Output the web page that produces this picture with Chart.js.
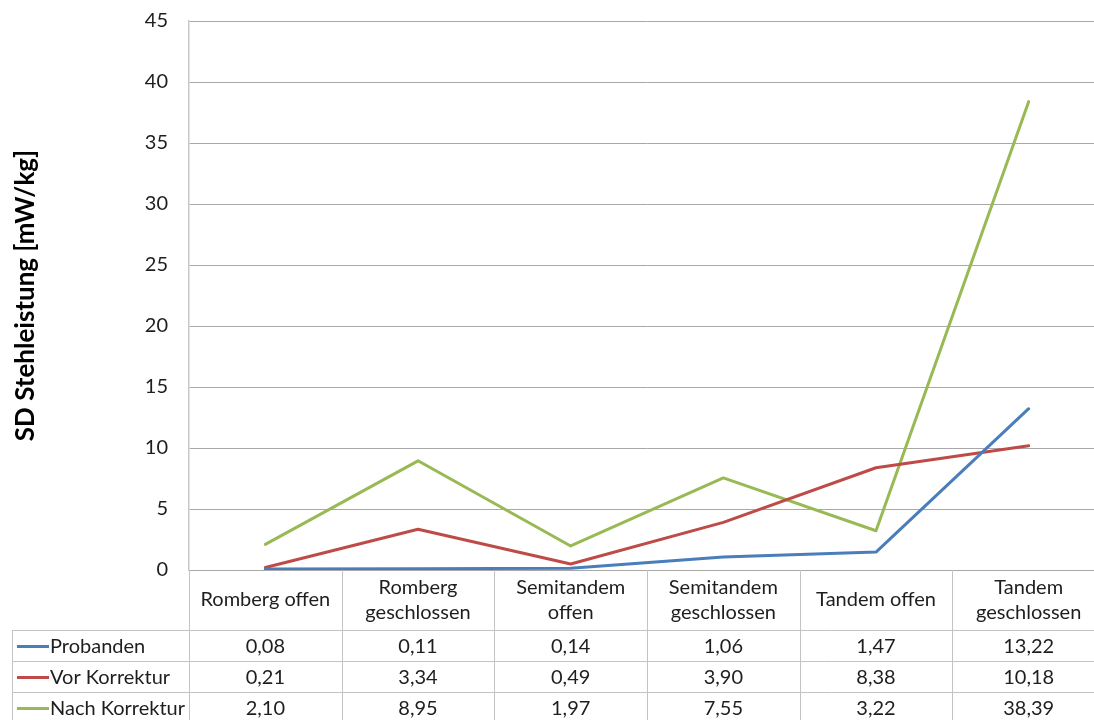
<!DOCTYPE html>
<html>
<head>
<meta charset="utf-8">
<script src="https://cdn.jsdelivr.net/npm/chart.js@4/dist/chart.umd.min.js"></script>
<style>
  html, body { margin: 0; padding: 0; background: #fff; overflow: hidden; }
  #wrap { width: 1094px; height: 720px; overflow: hidden; position: relative; }
  canvas { display: block; }
</style>
</head>
<body>
<div id="wrap"><canvas id="c" width="1108" height="720"></canvas></div>
<script>
// Standtests (Kategorien der x-Achse), mit Zeilenumbruch für die Tabellenköpfe
const categories = [
  ['Romberg offen'],
  ['Romberg', 'geschlossen'],
  ['Semitandem', 'offen'],
  ['Semitandem', 'geschlossen'],
  ['Tandem offen'],
  ['Tandem', 'geschlossen']
];

// SD der Stehleistung [mW/kg]
const probanden     = [0.08, 0.11, 0.14, 1.06, 1.47, 13.22];
const vorKorrektur  = [0.21, 3.34, 0.49, 3.90, 8.38, 10.18];
const nachKorrektur = [2.10, 8.95, 1.97, 7.55, 3.22, 38.39];

const seriesNames  = ['Probanden', 'Vor Korrektur', 'Nach Korrektur'];
const seriesColors = ['#4a7ebb', '#be4b48', '#98b954'];

const yTicks = [0, 5, 10, 15, 20, 25, 30, 35, 40, 45];

const FONT = 'Lato, "Open Sans", sans-serif';
const TEXT = '#1e1e1e';
const BORDER = '#c3c3c3';

function fmt(v) { return v.toFixed(2).replace('.', ','); }

// Datentabelle unterhalb der Zeichenfläche
const dataTable = {
  id: 'dataTable',
  afterDraw(chart) {
    const ctx = chart.ctx;
    const x = chart.scales.x;
    const area = chart.chartArea;
    const n = chart.data.labels.length;
    const colW = (x.getPixelForValue(n - 1) - x.getPixelForValue(0)) / (n - 1);
    const top = area.bottom;
    const headH = 60, rowH = 31;
    const tableLeft = 12;
    const bottom = chart.height;
    const sets = chart.data.datasets;

    ctx.save();
    ctx.strokeStyle = BORDER;
    ctx.lineWidth = 1;

    // vertical column borders
    for (let i = 0; i <= n; i++) {
      const bx = Math.round(x.getPixelForValue(i) - colW / 2) + 0.5;
      ctx.beginPath(); ctx.moveTo(bx, top); ctx.lineTo(bx, bottom); ctx.stroke();
    }
    // outer left border of the legend column
    ctx.beginPath(); ctx.moveTo(tableLeft + 0.5, top + headH); ctx.lineTo(tableLeft + 0.5, bottom); ctx.stroke();
    // horizontal row borders
    const right = x.getPixelForValue(n - 1) + colW / 2;
    for (let r = 0; r < sets.length; r++) {
      const ry = Math.round(top + headH + r * rowH) + 0.5;
      ctx.beginPath(); ctx.moveTo(tableLeft, ry); ctx.lineTo(right, ry); ctx.stroke();
    }

    ctx.fillStyle = TEXT;
    ctx.font = '20px ' + FONT;
    ctx.textAlign = 'center';
    ctx.textBaseline = 'middle';

    // column headers
    chart.data.labels.forEach((lab, i) => {
      const cx = x.getPixelForValue(i);
      const cy = top + headH / 2;
      if (lab.length === 1) {
        ctx.fillText(lab[0], cx, cy);
      } else {
        ctx.fillText(lab[0], cx, cy - 12.5);
        ctx.fillText(lab[1], cx, cy + 12.5);
      }
    });

    // data rows
    sets.forEach((ds, r) => {
      const cy = top + headH + r * rowH + rowH / 2 + 1;
      // legend key
      ctx.strokeStyle = ds.borderColor;
      ctx.lineWidth = 3;
      ctx.beginPath(); ctx.moveTo(tableLeft + 5, cy); ctx.lineTo(tableLeft + 37, cy); ctx.stroke();
      ctx.textAlign = 'left';
      ctx.fillText(ds.label, tableLeft + 38, cy);
      ctx.textAlign = 'center';
      ds.data.forEach((v, i) => ctx.fillText(fmt(v), x.getPixelForValue(i), cy));
    });
    ctx.restore();
  }
};

const seriesData = [probanden, vorKorrektur, nachKorrektur];

new Chart(document.getElementById('c'), {
  type: 'line',
  data: {
    labels: categories,
    datasets: seriesData.map((d, i) => ({
      label: seriesNames[i],
      data: d,
      borderColor: seriesColors[i],
      backgroundColor: seriesColors[i],
      borderWidth: 3,
      pointRadius: 0,
      tension: 0,
      borderCapStyle: 'round',
      borderJoinStyle: 'round'
    }))
  },
  options: {
    responsive: false,
    animation: false,
    devicePixelRatio: 1,
    layout: { padding: { top: 21, right: 3, bottom: 150, left: 0 } },
    plugins: { legend: { display: false }, tooltip: { enabled: false } },
    scales: {
      x: {
        type: 'category',
        offset: true,
        display: false
      },
      y: {
        min: 0,
        max: 45,
        afterBuildTicks: s => { s.ticks = yTicks.map(v => ({ value: v })); },
        afterFit: s => { s.width = 189; s.paddingTop = 0; s.paddingBottom = 0; },
        border: { display: true, color: '#c8c8c8', width: 1.5 },
        grid: { color: '#a8a8a8', lineWidth: 1, drawTicks: false },
        ticks: {
          padding: 21,
          color: TEXT,
          font: { family: FONT, size: 20 }
        },
        title: {
          display: true,
          text: 'SD Stehleistung [mW/kg]',
          color: '#000',
          font: { family: FONT, size: 26, weight: 'bold' },
          padding: { top: 10, bottom: 0 }
        }
      }
    }
  },
  plugins: [dataTable]
});
</script>
</body>
</html>
